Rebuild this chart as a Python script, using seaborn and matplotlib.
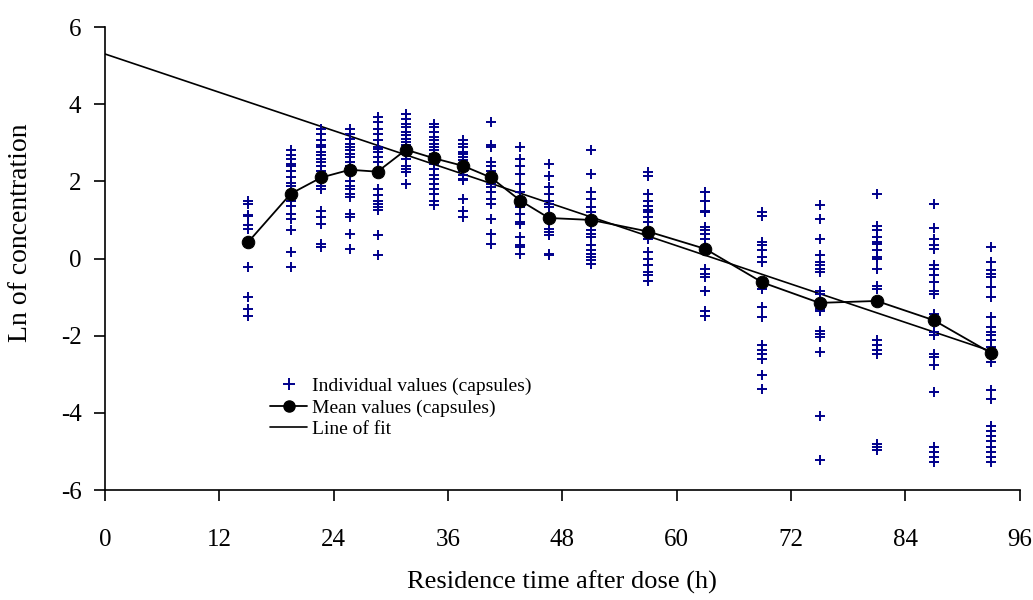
import numpy as np
import pandas as pd
import matplotlib
matplotlib.use("Agg")
import matplotlib.pyplot as plt
from matplotlib.lines import Line2D
import seaborn as sns

# sampling times (h)
times = [15, 19.5, 22.7, 25.7, 28.6, 31.6, 34.5, 37.6, 40.5, 43.6, 46.6, 51, 57, 63, 69, 75, 81, 87, 93]

# individual ln(concentration) values per time point (capsules)
individual = [
    [1.5, 1.4, 1.14, 1.1, 0.88, 0.77, 0.45, -0.22, -1.0, -1.3, -1.5],
    [2.8, 2.69, 2.58, 2.45, 2.41, 2.28, 2.12, 1.95, 1.87, 1.5, 1.35, 1.16, 1.03, 0.73, 0.16, -0.22],
    [3.36, 3.23, 3.07, 2.93, 2.88, 2.75, 2.67, 2.58, 2.5, 2.41, 2.28, 1.89, 1.81, 1.24, 1.07, 0.9, 0.38, 0.29],
    [3.36, 3.23, 3.1, 2.98, 2.89, 2.8, 2.72, 2.63, 2.5, 2.41, 2.02, 1.89, 1.81, 1.68, 1.6, 1.16, 1.07, 0.64, 0.25],
    [3.66, 3.53, 3.36, 3.23, 3.06, 2.89, 2.85, 2.76, 2.63, 2.5, 1.81, 1.64, 1.5, 1.42, 1.33, 1.25, 0.6, 0.09],
    [3.75, 3.62, 3.49, 3.4, 3.27, 3.19, 3.1, 3.01, 2.93, 2.71, 2.58, 2.41, 2.32, 2.24, 1.94],
    [3.49, 3.4, 3.27, 3.15, 3.06, 2.98, 2.89, 2.8, 2.72, 2.46, 2.33, 2.16, 2.07, 1.94, 1.81, 1.68, 1.5, 1.38],
    [3.07, 2.97, 2.89, 2.76, 2.72, 2.63, 2.55, 2.28, 2.16, 2.07, 2.03, 1.55, 1.24, 1.07],
    [3.53, 2.93, 2.89, 2.5, 2.41, 2.28, 1.94, 1.85, 1.72, 1.55, 1.42, 1.03, 0.64, 0.38],
    [2.88, 2.58, 2.41, 2.19, 1.94, 1.72, 1.33, 1.16, 0.94, 0.9, 0.55, 0.34, 0.29, 0.12],
    [2.45, 2.15, 1.85, 1.68, 1.5, 1.42, 1.33, 0.77, 0.68, 0.6, 0.12, 0.08],
    [2.8, 2.19, 1.72, 1.55, 1.33, 1.2, 0.73, 0.64, 0.55, 0.34, 0.21, 0.12, 0.03, -0.05, -0.14],
    [2.24, 2.15, 1.68, 1.5, 1.37, 1.26, 1.2, 1.07, 0.94, 0.51, 0.16, 0.0, -0.18, -0.35, -0.44, -0.57],
    [1.72, 1.5, 1.24, 1.2, 0.81, 0.73, 0.64, 0.51, -0.27, -0.4, -0.48, -0.83, -1.35, -1.48],
    [1.2, 1.11, 0.42, 0.34, 0.21, 0.03, -0.1, -0.79, -1.26, -1.52, -2.25, -2.38, -2.47, -2.6, -3.03, -3.38],
    [1.39, 1.03, 0.51, 0.08, -0.1, -0.18, -0.27, -0.35, -0.83, -0.91, -1.3, -1.35, -1.87, -1.95, -2.04, -2.43,
     -4.07, -5.23],
    [1.68, 0.85, 0.73, 0.55, 0.42, 0.38, 0.21, 0.03, 0.0, -0.27, -0.7, -0.79, -2.12, -2.25, -2.38, -2.47,
     -4.8, -4.89, -4.97],
    [1.42, 0.79, 0.51, 0.34, 0.25, -0.18, -0.27, -0.44, -0.61, -0.83, -0.91, -1.43, -1.9, -1.99, -2.47, -2.56,
     -2.77, -3.46, -4.89, -5.02, -5.14, -5.28],
    [0.31, -0.1, -0.31, -0.4, -0.48, -0.74, -1.0, -1.52, -1.78, -1.9, -1.99, -2.12, -2.3, -2.69, -3.42, -3.63,
     -4.33, -4.46, -4.59, -4.72, -4.89, -5.02, -5.14, -5.28],
]

# mean values per time point (capsules)
means = [0.42, 1.68, 2.1, 2.3, 2.25, 2.82, 2.6, 2.4, 2.1, 1.5, 1.05, 1.0, 0.7, 0.25, -0.62, -1.15, -1.1, -1.6, -2.45]

# line of fit
fit_intercept = 5.3
fit_slope = -0.0828
fit_x = [0, 93]

ind_df = pd.DataFrame({
    "time": [t for t, vals in zip(times, individual) for _ in vals],
    "lnc": [v for vals in individual for v in vals],
})
mean_df = pd.DataFrame({"time": times, "lnc": means})
fit_df = pd.DataFrame({"time": fit_x, "lnc": [fit_intercept + fit_slope * x for x in fit_x]})

sns.set_theme(style="white")
plt.rcParams['font.family'] = ['Liberation Serif', 'DejaVu Serif']
plt.rcParams['axes.unicode_minus'] = False
plt.rcParams['text.color'] = 'black'
plt.rcParams['axes.labelcolor'] = 'black'

fig = plt.figure(figsize=(10.33, 6), dpi=100)
ax = fig.add_axes([0.1017, 0.1833, 0.8853, 0.7717])

navy = "#00008B"
sns.lineplot(data=fit_df, x="time", y="lnc", color="black", lw=1.2, ax=ax)
sns.scatterplot(data=ind_df, x="time", y="lnc", marker="+", s=55, color=navy, linewidth=1.4, ax=ax, zorder=3)
sns.lineplot(data=mean_df, x="time", y="lnc", color="black", lw=1.3, marker="o", markersize=9,
             markeredgecolor="black", ax=ax, zorder=4)

ax.set_xlim(0, 96)
ax.set_ylim(-6, 6)
ax.set_xticks(range(0, 97, 12))
ax.set_yticks(range(-6, 7, 2))
sns.despine(ax=ax)
for s in ["left", "bottom"]:
    ax.spines[s].set_color("black")
    ax.spines[s].set_linewidth(1.2)
ax.tick_params(axis="both", which="major", direction="out", length=8, width=1.2, color="black",
               labelsize=18, labelcolor="black", bottom=True, left=True)
ax.tick_params(axis="x", pad=20)
ax.tick_params(axis="y", pad=9)
ax.set_xlabel("Residence time after dose (h)", fontsize=19, labelpad=14, color="black")
ax.set_ylabel("Ln of concentration", fontsize=20, color="black")
ax.yaxis.set_label_coords(-0.079, 0.555)

handles = [
    Line2D([], [], ls="none", marker="+", color=navy, markersize=8, markeredgewidth=1.4),
    Line2D([], [], color="black", lw=1.3, marker="o", markersize=8),
    Line2D([], [], color="black", lw=1.2),
]
labels = ["Individual values (capsules)", "Mean values (capsules)", "Line of fit"]
leg = ax.legend(handles, labels, loc="upper left", bbox_to_anchor=(0.17, 0.264), frameon=False,
                fontsize=14, handlelength=1.9, handletextpad=0.25, labelspacing=0.2, borderpad=0)
for t in leg.get_texts():
    t.set_color("black")

fig.savefig("out.png", dpi=100)
